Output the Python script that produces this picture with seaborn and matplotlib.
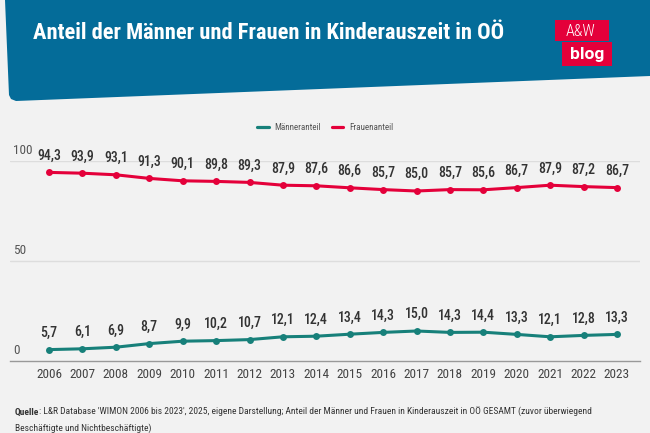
import numpy as np
import pandas as pd
import seaborn as sns
import matplotlib.pyplot as plt
from matplotlib.patches import Polygon, Rectangle

# Data
years = list(range(2006, 2024))
maenner = [5.7, 6.1, 6.9, 8.7, 9.9, 10.2, 10.7, 12.1, 12.4, 13.4, 14.3, 15.0, 14.3, 14.4, 13.3, 12.1, 12.8, 13.3]
frauen = [94.3, 93.9, 93.1, 91.3, 90.1, 89.8, 89.3, 87.9, 87.6, 86.6, 85.7, 85.0, 85.7, 85.6, 86.7, 87.9, 87.2, 86.7]
series_names = ["Männeranteil", "Frauenanteil"]
yticks = [0, 50, 100]

df = pd.concat([
    pd.DataFrame({"Jahr": years, "Wert": maenner, "Serie": series_names[0]}),
    pd.DataFrame({"Jahr": years, "Wert": frauen, "Serie": series_names[1]}),
], ignore_index=True)

sns.set_style("white")
plt.rcParams["font.family"] = ["Roboto Condensed", "Lato", "DejaVu Sans"]

BG = "#f2f2f2"
BLUE = "#046c99"
TEAL = "#17807a"
RED = "#e4003a"
W, H = 650, 433

fig = plt.figure(figsize=(6.5, 4.33), dpi=100, facecolor=BG)


def px(x, y):
    return (x / W, 1 - y / H)


# Header banner
banner = [px(5, 0), px(650, 0), px(650, 76), px(16, 101), px(11, 99), px(9, 95)]
fig.patches.append(Polygon(banner, closed=True, transform=fig.transFigure,
                           facecolor=BLUE, edgecolor="none", zorder=0))
fig.text(*px(33, 33), "Anteil der Männer und Frauen in Kinderauszeit in OÖ",
         color="white", fontsize=16.2, fontweight="bold", va="center", ha="left")

# Logo
fig.patches.append(Rectangle(px(555, 41), 54 / W, 21 / H, transform=fig.transFigure,
                             facecolor=RED, edgecolor="none"))
fig.patches.append(Rectangle(px(562, 66), 50 / W, 24 / H, transform=fig.transFigure,
                             facecolor=RED, edgecolor="none"))
fig.text(*px(581, 31), "A&W", color="white", fontsize=11.5, fontweight="light",
         ha="center", va="center")
fig.text(*px(587, 54), "blog", color="white", fontsize=12.5, fontweight="bold",
         family=["Roboto", "DejaVu Sans"], ha="center", va="center")

# Axes
ax = fig.add_axes([10 / W, 72 / H, 630 / W, 200 / H])
ax.set_facecolor(BG)
sns.lineplot(data=df, x="Jahr", y="Wert", hue="Serie", palette=[TEAL, RED],
             marker="o", markersize=5, markeredgewidth=0, linewidth=2.2,
             ax=ax, legend=False, clip_on=False)

ax.set_xlim(2004.83, 2023.69)
ax.set_ylim(0, 100)
for s in ["top", "right", "left"]:
    ax.spines[s].set_visible(False)
ax.spines["bottom"].set_color("#999999")
ax.spines["bottom"].set_linewidth(1)

ax.set_yticks(yticks)
ax.set_yticklabels([])
ax.tick_params(axis="y", length=0)
for v in yticks[1:]:
    ax.axhline(v, color="#dddddd", linewidth=1, zorder=0)
for v in yticks:
    ax.annotate(str(v), (0, v), xycoords=("axes fraction", "data"),
                xytext=(2, 3), textcoords="offset points",
                ha="left", va="bottom", fontsize=9.5, color="#555555")

ax.set_xticks(years)
ax.set_xticklabels([str(y) for y in years], fontsize=9.5, color="#444444")
ax.tick_params(axis="x", length=0, pad=5)
ax.set_xlabel("")
ax.set_ylabel("")

for vals in [maenner, frauen]:
    for x, v in zip(years, vals):
        ax.annotate(f"{v:.1f}".replace(".", ","), (x, v), xytext=(0, 7),
                    textcoords="offset points", ha="center", va="bottom",
                    fontsize=10, fontweight="medium", color="#333333")

# Legend
handles = [plt.Line2D([], [], color=c, linewidth=2.3) for c in [TEAL, RED]]
fig.legend(handles, series_names, loc="center", bbox_to_anchor=px(325, 128),
           ncol=2, frameon=False, fontsize=6.5, handlelength=1.3,
           columnspacing=1.2, handletextpad=0.6, labelcolor="#555555")

# Source
q = fig.text(*px(15, 412), "Quelle", fontsize=6.8, fontweight="bold",
             color="#333333", va="center")
ax.annotate(": L&R Database 'WIMON 2006 bis 2023', 2025, eigene Darstellung; Anteil der Männer "
            "und Frauen in Kinderauszeit in OÖ GESAMT (zuvor überwiegend",
            xy=(1, 0.5), xycoords=q, ha="left", va="center",
            fontsize=6.8, color="#333333", annotation_clip=False)
fig.text(*px(15, 428), "Beschäftigte und Nichtbeschäftigte)", fontsize=6.8,
         color="#333333", va="center")

fig.savefig("out.png", dpi=100, facecolor=BG)
